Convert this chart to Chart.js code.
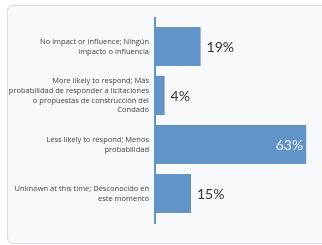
<!DOCTYPE html>
<html>
<head>
<meta charset="utf-8">
<script src="https://cdn.jsdelivr.net/npm/chart.js@4"></script>
<style>
  body { margin: 0; background: #ffffff; }
  #card {
    position: absolute; left: 7px; top: 5px; width: 330px; height: 237px;
    border: 1px solid #d5dce6; border-radius: 6px; background: #f8f9fb;
  }
  #wrap { position: absolute; left: 0; top: 0; width: 322px; height: 245px; }
</style>
</head>
<body>
<div id="card"></div>
<div id="wrap"><canvas id="chart"></canvas></div>
<script>
const categories = [
    ["No impact or influence; Ningún", "impacto o influencia"],
    ["More likely to respond; Más", "probabilidad de responder a licitaciones", "o propuestas de construcción del", "Condado"],
    ["Less likely to respond; Menos", "probabilidad"],
    ["Unknown at this time; Desconocido en", "este momento"]
];
const percentValues = [19, 4, 63, 15];
const BAR_COLOR = "#6194c8";

// value labels: outside the bar, or inside when the bar is long
const valueLabels = {
    id: "valueLabels",
    afterDatasetsDraw(chart) {
        let ctx = chart.ctx;
        let meta = chart.getDatasetMeta(0);
        ctx.save();
        ctx.font = "14px Lato";
        ctx.textBaseline = "middle";
        meta.data.forEach((bar, i) => {
            let txt = percentValues[i] + "%";
            if (percentValues[i] > 50) {
                ctx.fillStyle = "#e9f0f8";
                ctx.textAlign = "right";
                ctx.fillText(txt, bar.x - 3, bar.y + 1);
            } else {
                ctx.fillStyle = "#333333";
                ctx.textAlign = "left";
                ctx.fillText(txt, bar.x + 6, bar.y + 1);
            }
        });
        ctx.restore();
    }
};

// vertical axis line that runs a bit past the bars
const axisLine = {
    id: "axisLine",
    afterDatasetsDraw(chart) {
        let ctx = chart.ctx;
        let area = chart.chartArea;
        ctx.save();
        ctx.strokeStyle = BAR_COLOR;
        ctx.lineWidth = 2;
        ctx.beginPath();
        ctx.moveTo(area.left, area.top - 5);
        ctx.lineTo(area.left, area.bottom + 6);
        ctx.stroke();
        ctx.restore();
    }
};

new Chart(document.getElementById("chart"), {
    type: "bar",
    data: {
        labels: categories,
        datasets: [{
            data: percentValues,
            backgroundColor: BAR_COLOR,
            borderWidth: 0,
            barPercentage: 0.8,
            categoryPercentage: 1
        }]
    },
    options: {
        indexAxis: "y",
        responsive: true,
        maintainAspectRatio: false,
        animation: false,
        layout: { padding: { top: 22, bottom: 27, right: 11, left: 0 } },
        plugins: { legend: { display: false }, tooltip: { enabled: false } },
        scales: {
            x: { display: false, min: 0, max: 65 },
            y: {
                afterFit: (scale) => { scale.width = 155; },
                grid: { display: false, drawTicks: false },
                border: { display: false },
                ticks: {
                    padding: 6,
                    color: "#444444",
                    font: { family: "Open Sans", size: 7.5, lineHeight: 1.3 }
                }
            }
        }
    },
    plugins: [valueLabels, axisLine]
});
</script>
</body>
</html>
